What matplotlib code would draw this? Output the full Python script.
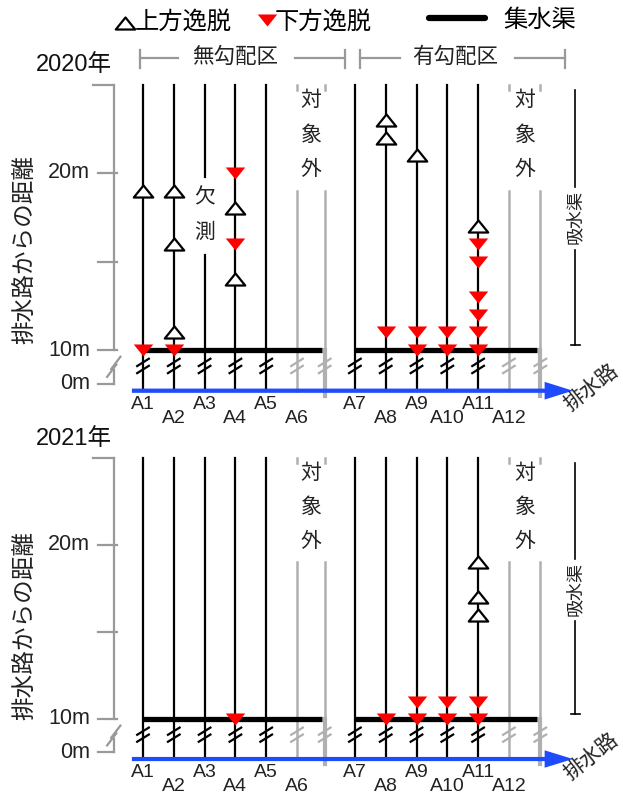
import matplotlib.pyplot as plt
from matplotlib.path import Path

plt.rcParams['font.family'] = ['Liberation Sans', 'Noto Sans CJK JP']

# lanes (drain lines) and their horizontal positions
lanes = ['A1', 'A2', 'A3', 'A4', 'A5', 'A6', 'A7', 'A8', 'A9', 'A10', 'A11', 'A12']
lane_x = [0, 1, 2, 3, 4, 5, 6.88, 7.88, 8.88, 9.88, 10.88, 11.88]
excluded = ['A6', 'A12']
end_x = [5.9, 12.9]          # gray end walls of each block
blocks = [(0, 5.8), (6.88, 12.8)]   # collector drain (集水渠) extents

ticks_m = [10, 15, 20, 25]
tick_labels = {20: '20m', 10: '10m'}

# deviation points, metres from the drainage channel
up_2020 = {'A1': [19], 'A2': [19, 16, 11], 'A4': [18, 14],
           'A8': [23, 22], 'A9': [21], 'A11': [17]}
down_2020 = {'A1': [10], 'A2': [10], 'A4': [20, 16], 'A8': [11],
             'A9': [11, 10], 'A10': [11, 10], 'A11': [16, 15, 13, 12, 11, 10]}
up_2021 = {'A11': [19, 17, 16]}
down_2021 = {'A4': [10], 'A8': [10], 'A9': [11, 10], 'A10': [11, 10],
             'A11': [11, 10]}

ZERO = 8.1     # where "0m" sits (axis is broken below 10m)
BLUE_Y = 7.7
BREAK_Y = 9.1
TOP = 25
BLUE = '#1f4bff'
GRAY = '#999999'
LGRAY = '#b0b0b0'

codes = [Path.MOVETO, Path.LINETO, Path.LINETO, Path.CLOSEPOLY]
tri_up = Path([(-1, -0.62), (1, -0.62), (0, 0.62), (-1, -0.62)], codes)
tri_down = Path([(-1, 0.62), (1, 0.62), (0, -0.62), (-1, 0.62)], codes)


def slash(ax, x, y, color, dx=0.22, dy=0.24, lw=1.6):
    for off in (-0.2, 0.2):
        ax.plot([x - dx, x + dx], [y + off - dy, y + off + dy], color=color,
                lw=lw, zorder=4, solid_capstyle='butt')


def draw_panel(ax, year, ups, downs, missing=None, header=False, ylabel_y=15.6):
    ax.axis('off')

    # y axis with break
    ax.plot([-0.94, -0.94], [10, TOP], color=GRAY, lw=1.6)
    ax.plot([-1.63, -0.94], [TOP, TOP], color=GRAY, lw=1.6)
    for t in ticks_m[:-1]:
        ax.plot([-1.46, -0.84], [t, t], color=GRAY, lw=1.6)
    ax.plot([-0.94, -0.94], [ZERO, 8.85], color=GRAY, lw=1.6)
    ax.plot([-1.46, -0.94], [ZERO, ZERO], color=GRAY, lw=1.6)
    for off in (-0.22, 0.22):
        ax.plot([-1.1 + off * 0.3, -0.8 + off * 0.3],
                [9.05 + off - 0.35, 9.05 + off + 0.35], color=GRAY, lw=1.6)
    for t, lab in tick_labels.items():
        ax.text(-1.72, t, lab, ha='right', va='center', fontsize=15.5, color='#222222')
    ax.text(-1.72, ZERO, '0m', ha='right', va='center', fontsize=15.5, color='#222222')
    ax.text(-3.83, ylabel_y, '排水路からの距離', rotation=90, ha='center',
            va='center', fontsize=17, color='#222222')
    ax.text(-2.24, 26.1, year, ha='center', va='center', fontsize=17, color='#111111')

    # lanes
    for name, x in zip(lanes, lane_x):
        if name in excluded:
            ax.plot([x, x], [BLUE_Y, 19.0], color=LGRAY, lw=1.8, zorder=2)
            ax.plot([x, x], [24.7, TOP], color=LGRAY, lw=1.8, zorder=2)
            slash(ax, x, BREAK_Y, LGRAY)
        elif name == missing:
            ax.plot([x, x], [BLUE_Y, 15.37], color='black', lw=1.6, zorder=2)
            ax.plot([x, x], [19.77, TOP], color='black', lw=1.6, zorder=2)
            slash(ax, x, BREAK_Y, 'black')
        else:
            ax.plot([x, x], [BLUE_Y, TOP], color='black', lw=1.6, zorder=2)
            slash(ax, x, BREAK_Y, 'black')
    for x in end_x:
        ax.plot([x, x], [10, 19.0], color=LGRAY, lw=1.8, zorder=2)
        ax.plot([x, x], [24.7, TOP], color=LGRAY, lw=1.8, zorder=2)
        ax.plot([x, x], [BLUE_Y - 0.3, 10], color=LGRAY, lw=3, zorder=2)
        slash(ax, x, BREAK_Y, LGRAY)

    # 対象外 labels
    for x0 in (5.45, 12.4):
        for ch, yy in zip('対象外', (24.1, 22.15, 20.2)):
            ax.text(x0, yy, ch, ha='center', va='center', fontsize=15, color='#222222')
    if missing:
        mx = lane_x[lanes.index(missing)]
        for ch, yy in zip('欠測', (18.6, 16.67)):
            ax.text(mx, yy, ch, ha='center', va='center', fontsize=15, color='#222222')

    # collector drains
    for x0, x1 in blocks:
        ax.plot([x0, x1], [10, 10], color='black', lw=3.8, zorder=3,
                solid_capstyle='butt')

    # 吸水渠 dimension line
    ax.plot([14.03, 14.03], [19.2, 24.7], color='black', lw=1.2)
    ax.plot([14.03, 14.03], [10.3, 15.65], color='black', lw=1.2)
    ax.plot([13.88, 14.18], [10.3, 10.3], color='black', lw=1.2)
    ax.text(14.03, 17.5, '吸水渠', rotation=90, ha='center', va='center',
            fontsize=13, color='#222222')

    # drainage channel arrow
    ax.arrow(-0.36, BLUE_Y, 14.32, 0, width=0.24, head_width=1.0,
             head_length=0.92, length_includes_head=True, color=BLUE, lw=0,
             zorder=3)
    ax.text(14.55, 7.85, '排水路', rotation=38, ha='center', va='center',
            fontsize=15, color='#222222')

    # lane labels, staggered
    for i, (name, x) in enumerate(zip(lanes, lane_x)):
        yy = 6.9 if i % 2 == 0 else 6.12
        ax.text(x, yy, name, ha='center', va='center', fontsize=14, color='#222222')

    # deviation markers
    for name, vals in ups.items():
        x = lane_x[lanes.index(name)]
        ax.plot([x] * len(vals), vals, ls='none', marker=tri_up, ms=14,
                mfc='white', mec='black', mew=1.6, zorder=5)
    for name, vals in downs.items():
        x = lane_x[lanes.index(name)]
        ax.plot([x] * len(vals), vals, ls='none', marker=tri_down, ms=14,
                mfc='#ff0000', mec='none', zorder=5)

    if header:
        # legend
        ax.plot([-0.58], [28.45], ls='none', marker=tri_up, ms=14,
                mfc='white', mec='black', mew=1.6)
        ax.text(-0.28, 28.5, '上方逸脱', ha='left', va='center', fontsize=17.5)
        ax.plot([4.03], [28.65], ls='none', marker=tri_down, ms=14,
                mfc='#ff0000', mec='none')
        ax.text(4.27, 28.5, '下方逸脱', ha='left', va='center', fontsize=17.5)
        ax.plot([9.3, 11.1], [28.75, 28.75], color='black', lw=4.5,
                solid_capstyle='round')
        ax.text(11.69, 28.6, '集水渠', ha='left', va='center', fontsize=17.5)
        # section brackets
        for (x0, x1, xt0, xt1, xc, lab) in [(-0.1, 6.56, 1.14, 4.94, 2.99, '無勾配区'),
                                           (7.05, 13.7, 8.34, 12.08, 10.13, '有勾配区')]:
            ax.plot([x0, xt0], [26.5, 26.5], color=GRAY, lw=1.6)
            ax.plot([xt1, x1], [26.5, 26.5], color=GRAY, lw=1.6)
            ax.plot([x0, x0], [25.95, 26.95], color=GRAY, lw=1.6)
            ax.plot([x1, x1], [25.95, 26.95], color=GRAY, lw=1.6)
            ax.text(xc, 26.55, lab, ha='center', va='center', fontsize=15.5,
                    color='#222222')


fig = plt.figure(figsize=(6.23, 8.01), dpi=100)
ax1 = fig.add_axes([0, 371 / 801, 1, 430 / 801])
ax2 = fig.add_axes([0, 0, 1, 371 / 801])
ax1.set_xlim(-143 / 30.8, 480 / 30.8)
ax2.set_xlim(-143 / 30.8, 480 / 30.8)
ax1.set_ylim(10 - 80 / 17.7, 10 + 350 / 17.7)
ax2.set_ylim(10 - 82 / 17.4, 10 + 289 / 17.4)

draw_panel(ax1, '2020年', up_2020, down_2020, missing='A3', header=True,
           ylabel_y=15.65)
draw_panel(ax2, '2021年', up_2021, down_2021, ylabel_y=15.4)

fig.savefig('out.png', dpi=100)
